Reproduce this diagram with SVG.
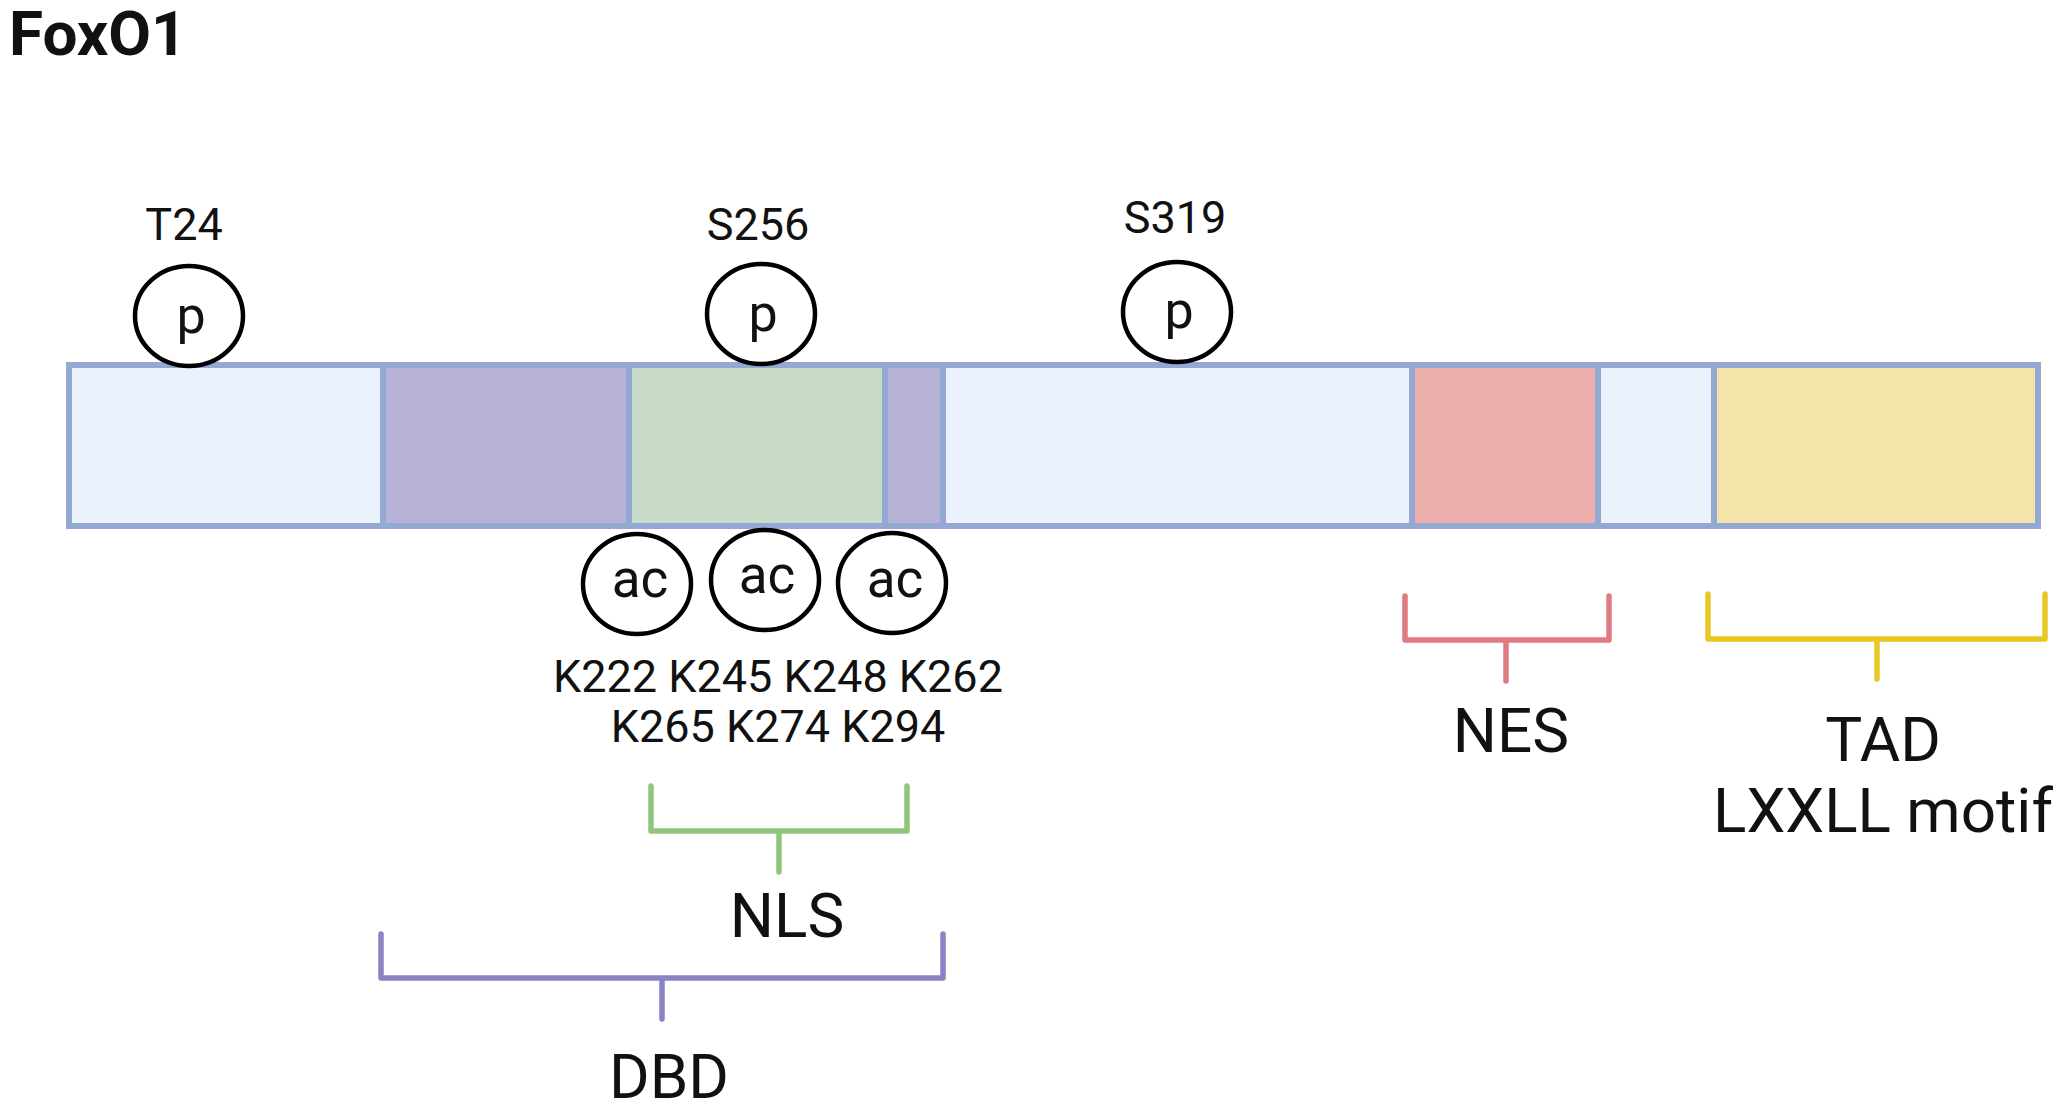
<svg xmlns="http://www.w3.org/2000/svg" width="2062" height="1110" viewBox="0 0 2062 1110">
<style>
text{font-family:Roboto,"Liberation Sans",sans-serif;fill:#111;text-anchor:middle}
.seg{stroke:#93A8D3;stroke-width:6}
.lb{fill:#ECF2FB}.pu{fill:#B8B4D8}.gr{fill:#C8DBC8}.pk{fill:#ECADAD}.ye{fill:#F3E4AA}
.mod{fill:#fff;stroke:#000;stroke-width:4.5}
.br{fill:none;stroke-width:5.5;stroke-linecap:round;stroke-linejoin:round}
.site{font-size:45px}
.dom{font-size:62px}
</style>
<rect width="2062" height="1110" fill="#fff"/>
<text x="9" y="55" style="font-size:62px;font-weight:bold;text-anchor:start">FoxO1</text>
<g id="protein">
<rect class="seg lb" x="69" y="365" width="314" height="161"/>
<rect class="seg pu" x="383" y="365" width="246" height="161"/>
<rect class="seg gr" x="629" y="365" width="256" height="161"/>
<rect class="seg pu" x="885" y="365" width="58" height="161"/>
<rect class="seg lb" x="943" y="365" width="469" height="161"/>
<rect class="seg pk" x="1412" y="365" width="186" height="161"/>
<rect class="seg lb" x="1598" y="365" width="116" height="161"/>
<rect class="seg ye" x="1714" y="365" width="324" height="161"/>
</g>
<g id="p-T24">
<text class="site" x="184" y="240">T24</text>
<ellipse class="mod" cx="189" cy="316" rx="54" ry="50"/>
<text x="191" y="333" style="font-size:52px">p</text>
</g>
<g id="p-S256">
<text class="site" x="758" y="240">S256</text>
<ellipse class="mod" cx="761" cy="314" rx="54" ry="50"/>
<text x="763" y="331" style="font-size:52px">p</text>
</g>
<g id="p-S319">
<text class="site" x="1175" y="233">S319</text>
<ellipse class="mod" cx="1177" cy="312" rx="54" ry="50"/>
<text x="1179" y="328" style="font-size:52px">p</text>
</g>
<g id="ac-sites">
<ellipse class="mod" cx="637" cy="584" rx="54" ry="50"/>
<text x="640" y="597" style="font-size:53px">ac</text>
<ellipse class="mod" cx="765" cy="580" rx="54" ry="50"/>
<text x="767" y="593" style="font-size:53px">ac</text>
<ellipse class="mod" cx="892" cy="583" rx="54" ry="50"/>
<text x="895" y="597" style="font-size:53px">ac</text>
<text class="site" x="778" y="692">K222 K245 K248 K262</text>
<text class="site" x="778" y="742">K265 K274 K294</text>
</g>
<g id="connectors">
<path class="br" stroke="#8FC67C" d="M651 786 V831 H907 V786 M779 831 V872"/>
<path class="br" stroke="#8985C4" d="M381 934 V978 H943 V934 M662 978 V1019"/>
<path class="br" stroke="#E07B82" d="M1405 596 V640 H1609 V596 M1506 640 V681"/>
<path class="br" stroke="#E8C624" d="M1708 594 V639 H2045 V594 M1877 639 V679"/>
</g>
<g id="labels">
<text class="dom" x="787" y="937">NLS</text>
<text class="dom" x="669" y="1098">DBD</text>
<text class="dom" x="1511" y="752">NES</text>
<text class="dom" x="1883" y="761">TAD</text>
<text class="dom" x="1883" y="832">LXXLL motif</text>
</g>
</svg>
